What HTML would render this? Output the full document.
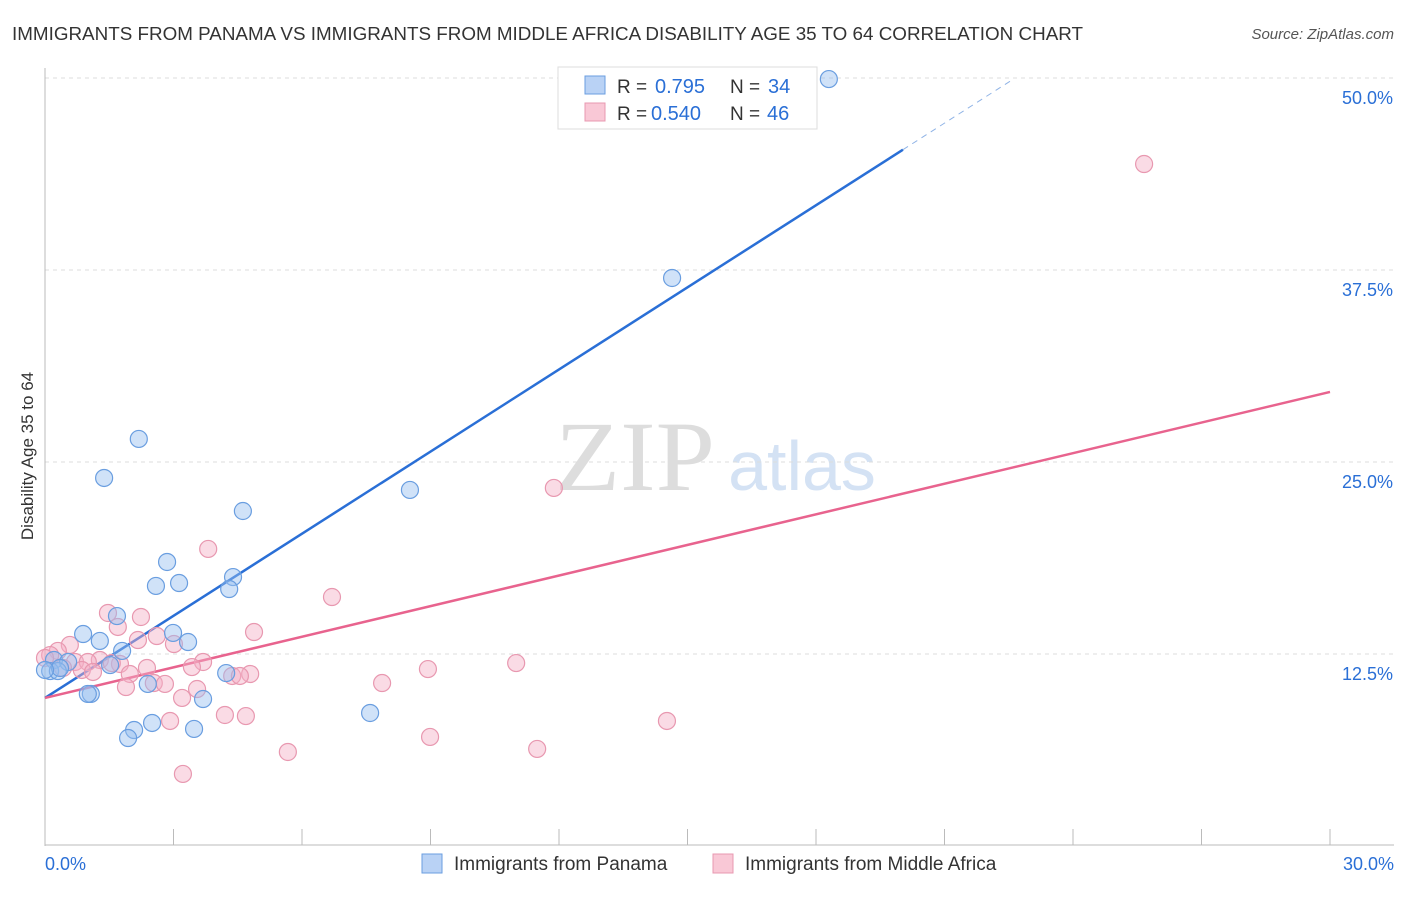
<!DOCTYPE html>
<html><head><meta charset="utf-8"><style>
body{margin:0;background:#fff;font-family:"Liberation Sans",sans-serif}
svg text{font-family:"Liberation Sans",sans-serif}
</style></head><body>
<svg id="c" width="1406" height="892">
<text x="12" y="40" font-size="18" fill="#333" textLength="1071" lengthAdjust="spacingAndGlyphs">IMMIGRANTS FROM PANAMA VS IMMIGRANTS FROM MIDDLE AFRICA DISABILITY AGE 35 TO 64 CORRELATION CHART</text>
<text x="1394" y="39" font-size="15" fill="#555" text-anchor="end" font-style="italic">Source: ZipAtlas.com</text>
<text x="635" y="490" font-size="100" fill="#ddd" text-anchor="middle" textLength="160" lengthAdjust="spacingAndGlyphs" style="font-family:'Liberation Serif',serif">ZIP</text>
<text x="802" y="490" font-size="70" fill="#d4e2f4" text-anchor="middle">atlas</text>
<text transform="translate(33,456) rotate(-90)" font-size="17" fill="#333" text-anchor="middle">Disability Age 35 to 64</text>
<g id="grid"></g><g id="axes"></g><g id="lines"></g><g id="pts"></g>
<g>
<rect x="558" y="67" width="259" height="62" fill="#fff" stroke="#ddd"/>
<rect x="585" y="76" width="20" height="18" fill="#b9d2f5" stroke="#6a9ee0"/>
<text x="617" y="93" font-size="19" fill="#333">R =</text>
<text x="655" y="93" font-size="20" fill="#2a6fd6">0.795</text>
<text x="730" y="93" font-size="19" fill="#333">N =</text>
<text x="768" y="93" font-size="20" fill="#2a6fd6">34</text>
<rect x="585" y="103" width="20" height="18" fill="#f9c8d6" stroke="#e898b0"/>
<text x="617" y="120" font-size="19" fill="#333">R =</text>
<text x="651" y="120" font-size="20" fill="#2a6fd6">0.540</text>
<text x="730" y="120" font-size="19" fill="#333">N =</text>
<text x="767" y="120" font-size="20" fill="#2a6fd6">46</text>
</g>
<g>
<rect x="422" y="854" width="20" height="19" fill="#b9d2f5" stroke="#6a9ee0"/>
<text x="454" y="870" font-size="19" fill="#333">Immigrants from Panama</text>
<rect x="713" y="854" width="20" height="19" fill="#f9c8d6" stroke="#e898b0"/>
<text x="745" y="870" font-size="19" fill="#333">Immigrants from Middle Africa</text>
</g>
</svg>
<script>
const yTicks=[12.5,25,37.5,50];
const xTickLabels=["0.0%","30.0%"];
const blueX=[18.30,14.64,2.19,1.38,8.52,4.62,2.85,4.39,2.59,3.13,4.30,1.68,0.89,1.28,2.99,3.34,1.80,0.21,0.54,1.52,0.12,0.30,4.23,1.07,1.00,3.69,2.40,7.59,2.50,2.08,1.94,3.48,0.35,0];
const blueY=[49.93,36.98,26.50,23.96,23.18,21.81,18.49,17.51,16.93,17.12,16.73,14.97,13.80,13.35,13.87,13.28,12.70,12.11,11.98,11.78,11.39,11.39,11.26,9.90,9.90,9.57,10.55,8.66,8.01,7.55,7.03,7.62,11.59,11.46];
const pinkX=[25.66,11.88,3.81,6.70,1.47,2.24,1.70,4.88,2.17,2.61,0.58,3.01,0.30,0.12,0,0.70,1.28,1.00,1.75,3.69,2.38,3.43,1.98,0.86,1.12,4.79,4.37,8.94,11.00,7.87,1.89,2.54,2.80,3.55,3.20,2.92,4.20,4.69,14.52,8.99,5.67,11.49,3.22,1.56,0.42,4.55];
const pinkY=[44.40,23.31,19.34,16.21,15.17,14.91,14.26,13.93,13.41,13.67,13.09,13.15,12.70,12.43,12.24,11.98,12.11,11.98,11.85,11.98,11.59,11.65,11.20,11.46,11.33,11.20,11.07,11.52,11.91,10.61,10.35,10.61,10.55,10.22,9.64,8.14,8.53,8.46,8.14,7.10,6.12,6.32,4.69,11.91,11.59,11.07];
const blueLine=[9.64,63.1];
const blueSolidEnd=20.03;
const pinkLine=[9.64,29.56];
const NS="http://www.w3.org/2000/svg";
const X=v=>45+v/30*1285, Y=v=>846-v/12.5*192;
function mk(t,a,p){const e=document.createElementNS(NS,t);for(const k in a)e.setAttribute(k,a[k]);p.appendChild(e);return e;}
const grid=document.getElementById('grid'),axes=document.getElementById('axes'),lines=document.getElementById('lines'),pts=document.getElementById('pts');
yTicks.forEach(v=>{
const l=mk('line',{x1:45,x2:1394,y1:Y(v),y2:Y(v),stroke:'#ddd','stroke-dasharray':'4,4'},grid);


const t=mk('text',{x:1393,y:Y(v)+26,'font-size':18,fill:'#2a6fd6','text-anchor':'end'},grid);
t.textContent=v.toFixed(1)+'%';


});
mk('line',{x1:45,x2:45,y1:68,y2:846,stroke:'#bbb'},axes);
mk('line',{x1:45,x2:1394,y1:845,y2:845,stroke:'#bbb'},axes);
for(let i=1;i<=10;i++){const tk=mk('line',{x1:X(i*3),x2:X(i*3),y1:829,y2:845,stroke:'#bbb'},axes);

}
[[0,'start',45],[30,'end',1394]].forEach((d,i)=>{const t=mk('text',{x:d[2],y:870,'font-size':18,fill:'#2a6fd6','text-anchor':d[1]},axes);t.textContent=xTickLabels[i];

});
function drawPts(xs,ys,fill,stroke,name){xs.forEach((x,i)=>{const c=mk('circle',{cx:X(x),cy:Y(ys[i]),r:8.5,fill:fill,stroke:stroke,'stroke-width':1.2},pts);

});}
drawPts(pinkX,pinkY,'rgba(245,175,198,0.45)','#e898b0','point-middle-africa');
drawPts(blueX,blueY,'rgba(150,190,240,0.45)','#6a9ee0','point-panama');
const by=x=>blueLine[0]+(blueLine[1]-blueLine[0])*x/30;
const b1=mk('line',{x1:X(0),y1:Y(by(0)),x2:X(blueSolidEnd),y2:Y(by(blueSolidEnd)),stroke:'#2a6fd6','stroke-width':2.5},lines);


const xe=blueSolidEnd+2.5;
const b2=mk('line',{x1:X(blueSolidEnd),y1:Y(by(blueSolidEnd)),x2:X(xe),y2:Y(by(xe)),stroke:'#8fb3e6','stroke-width':1,'stroke-dasharray':'6,5'},lines);


const p1=mk('line',{x1:X(0),y1:Y(pinkLine[0]),x2:X(30),y2:Y(pinkLine[1]),stroke:'#e8638e','stroke-width':2.5},lines);


</script>
</body></html>
